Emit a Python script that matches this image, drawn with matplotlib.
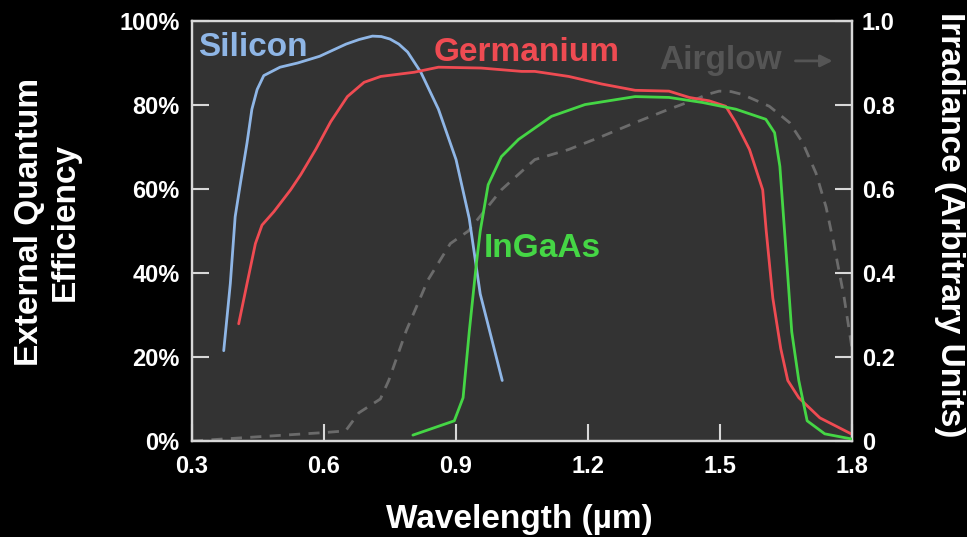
import numpy as np
import matplotlib
matplotlib.use('Agg')
import matplotlib.pyplot as plt
from matplotlib import font_manager as fm

# ── data ──────────────────────────────────────────────────────
si_x = [0.372, 0.387, 0.398, 0.41, 0.425, 0.436, 0.448, 0.463, 0.50, 0.54, 0.59,
        0.65, 0.68, 0.71, 0.73, 0.75, 0.77, 0.79, 0.82, 0.86, 0.90, 0.93, 0.955, 1.005]
si_y = [21.5, 37.5, 53.4, 61.4, 71, 79, 83.7, 87, 89, 90, 91.6,
        94.5, 95.6, 96.4, 96.3, 95.7, 94.5, 92.6, 87.8, 79, 67, 53, 35, 14.4]

ge_x = [0.406, 0.425, 0.444, 0.459, 0.486, 0.524, 0.547, 0.581, 0.615, 0.653, 0.691,
        0.729, 0.805, 0.86, 0.957, 1.049, 1.079, 1.156, 1.231, 1.307, 1.384, 1.43,
        1.475, 1.513, 1.536, 1.567, 1.597, 1.605, 1.62, 1.638, 1.654, 1.679, 1.727, 1.798]
ge_y = [27.9, 37.5, 47, 51.4, 54.6, 59.8, 63.4, 69.4, 76, 82, 85.4,
        86.8, 87.8, 89, 88.8, 88, 88, 86.8, 85, 83.5, 83.3, 81.8,
        81, 79.7, 75.8, 69.4, 59.8, 50, 34, 22, 14.4, 10.3, 5.5, 1.7]

ingaas_x = [0.802, 0.896, 0.916, 0.93, 0.946, 0.955, 0.973, 1.003, 1.042, 1.117, 1.193,
            1.307, 1.384, 1.46, 1.536, 1.604, 1.624, 1.636, 1.647, 1.663, 1.679, 1.698,
            1.738, 1.798]
ingaas_y = [1.4, 4.8, 10.3, 26, 42, 50, 61, 67.7, 71.8, 77.3, 80.1,
            82, 81.8, 80.6, 79, 76.6, 73.4, 65.4, 49.5, 26, 14.4, 4.8,
            1.7, 0.5]

air_x = [0.30, 0.60, 0.649, 0.679, 0.728, 0.747, 0.787, 0.836, 0.887, 0.928, 1.003,
         1.079, 1.156, 1.231, 1.307, 1.384, 1.444, 1.47, 1.498, 1.525, 1.551, 1.612,
         1.658, 1.688, 1.718, 1.741, 1.757, 1.782, 1.80]
air_y = [0.0, 0.02, 0.024, 0.067, 0.10, 0.144, 0.263, 0.383, 0.47, 0.50, 0.598,
         0.67, 0.694, 0.725, 0.758, 0.79, 0.813, 0.825, 0.833, 0.832, 0.825, 0.797,
         0.758, 0.71, 0.638, 0.557, 0.478, 0.342, 0.22]

x_ticks = [0.3, 0.6, 0.9, 1.2, 1.5, 1.8]
eqe_ticks = [0, 20, 40, 60, 80, 100]
irr_ticks = [0, 0.2, 0.4, 0.6, 0.8, 1.0]
irr_labels = ['0', '0.2', '0.4', '0.6', '0.8', '1.0']

# ── style ─────────────────────────────────────────────────────
names = {f.name for f in fm.fontManager.ttflist}
if 'Liberation Sans Narrow' in names:
    tick_font, tick_size = 'Liberation Sans Narrow', 20
else:
    tick_font, tick_size = 'Liberation Sans', 17
plt.rcParams['font.family'] = ['Liberation Sans', 'DejaVu Sans']

BG = '#333333'
SPINE = '#d8d8d8'
C_SI = '#8fb6e6'
C_GE = '#ef4b52'
C_IN = '#45d645'
C_AIR = '#6b6b6b'

fig = plt.figure(figsize=(9.67, 5.37), dpi=100, facecolor='black')
ax = fig.add_axes([0.1986, 0.1788, 0.6825, 0.7821])
ax.set_facecolor(BG)

line_kw = dict(lw=2.0, solid_joinstyle='round', solid_capstyle='round')
ax.plot(si_x, si_y, color=C_SI, **line_kw)
ax.plot(ge_x, ge_y, color=C_GE, **line_kw)
ax.plot(ingaas_x, ingaas_y, color=C_IN, zorder=3, **line_kw)

ax.set_xlim(0.3, 1.8)
ax.set_ylim(0, 100)
ax.set_xticks(x_ticks)
ax.set_xticklabels([f'{v:.1f}' for v in x_ticks])
ax.set_yticks(eqe_ticks)
ax.set_yticklabels([f'{v}%' for v in eqe_ticks])

ax2 = ax.twinx()
ax2.plot(air_x, air_y, color=C_AIR, lw=2.0, ls=(0, (4, 3)), zorder=1)
ax2.set_ylim(0, 1)
ax2.set_yticks(irr_ticks)
ax2.set_yticklabels(irr_labels)
ax.set_zorder(ax2.get_zorder() + 1)
ax.patch.set_visible(False)
ax2.patch.set_visible(True)
ax2.patch.set_facecolor(BG)

for a in (ax, ax2):
    for s in a.spines.values():
        s.set_color(SPINE)
        s.set_linewidth(1.6)
    a.tick_params(direction='in', length=12, width=1.5, color=SPINE,
                  labelcolor='white')
    for lab in a.get_xticklabels() + a.get_yticklabels():
        lab.set_fontfamily(tick_font)
        lab.set_fontweight('bold')
        lab.set_fontsize(tick_size)
ax.tick_params(axis='x', pad=10)
ax.tick_params(axis='y', pad=9)
ax2.tick_params(axis='y', pad=7)

# curve labels
ax.text(0.314, 93.8, 'Silicon', color=C_SI, fontsize=24, fontweight='bold', va='center')
ax.text(0.848, 92.4, 'Germanium', color=C_GE, fontsize=24, fontweight='bold', va='center')
ax.text(0.962, 45.9, 'InGaAs', color=C_IN, fontsize=24, fontweight='bold', va='center')
ax.text(1.362, 90.5, 'Airglow', color='#555555', fontsize=24, fontweight='bold', va='center')
ax.annotate('', xy=(1.762, 90.5), xytext=(1.665, 90.5),
            arrowprops=dict(arrowstyle='-|>', color='#555555', lw=2, mutation_scale=18))

# axis titles
fig.text(0.049, 0.587, 'External Quantum\nEfficiency', rotation=90, color='white',
         fontsize=24, fontweight='bold', ha='center', va='center', multialignment='center')
fig.text(0.982, 0.581, 'Irradiance (Arbitrary Units)', rotation=270, color='white',
         fontsize=24, fontweight='bold', ha='center', va='center')
fig.text(0.537, 0.032, 'Wavelength (µm)', color='white', fontsize=24,
         fontweight='bold', ha='center', va='center')

fig.savefig('out.png', dpi=100, facecolor='black')
